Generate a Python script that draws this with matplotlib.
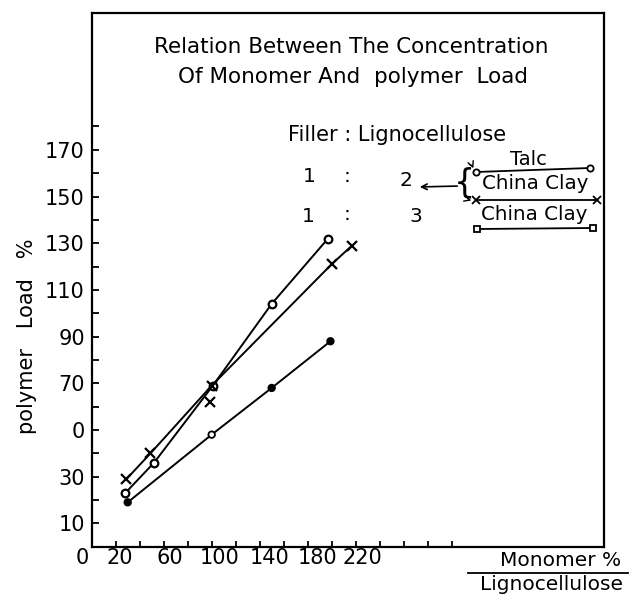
import matplotlib
matplotlib.use('Agg')
import matplotlib.pyplot as plt
import numpy as np
from matplotlib.transforms import ScaledTranslation, blended_transform_factory
from matplotlib.lines import Line2D

plt.rcParams['font.family'] = ['DejaVu Sans']

# ---------------- data ----------------
talc_x = [28, 52, 101, 150, 197]
talc_y = [23, 36, 69, 104, 132]

clay12_x = [29, 49, 100, 200, 217]
clay12_y = [29, 40, 69, 121, 129]

stray_x = [99]
stray_y = [62]

clay13_x = [30, 100, 150, 199]
clay13_y = [19, 48, 68, 88]
clay13_fill = ['k', 'white', 'k', 'k']

x_tick_values = [0, 20, 60, 100, 140, 180, 220]
x_tick_labels = ['0', '20', '60', '100', '140', '180', '220']
y_tick_values = [10, 30, 50, 70, 90, 110, 130, 150, 170]
y_tick_labels = ['10', '30', '0', '70', '90', '110', '130', '150', '170']

# ---------------- layout ----------------
W, H = 630, 594
DPI = 100
fig = plt.figure(figsize=(W / DPI, H / DPI), dpi=DPI)
fig.patch.set_facecolor('white')

def fx(px):
    return px / W

def fy(py):
    return 1 - py / H

L, R, T, B = 91.7, 604, 13, 546.7
ax = fig.add_axes([fx(L), fy(B), (R - L) / W, (B - T) / H])
ax.set_xlim(0, 427)
ax.set_ylim(0, 228.6)

for s in ax.spines.values():
    s.set_linewidth(1.6)
    s.set_color('k')

lw = 1.4
ax.plot(clay13_x, clay13_y, '-', color='k', lw=lw, zorder=2)
ax.scatter(clay13_x, clay13_y, s=22, facecolors=clay13_fill, edgecolors='k',
           linewidths=1.3, zorder=3)
ax.plot(talc_x, talc_y, '-', color='k', lw=lw, marker='o', mfc='white',
        mec='k', ms=5.5, mew=1.6, zorder=3)
ax.plot(clay12_x, clay12_y, '-', color='k', lw=lw, marker='x', ms=7,
        mew=1.6, zorder=3)
ax.plot(stray_x, stray_y, linestyle='none', color='k', marker='x', ms=7,
        mew=1.6, zorder=3)

# ticks
ax.set_xticks(np.arange(0, 301, 20))
ax.set_xticklabels([])
ax.tick_params(axis='x', direction='in', length=4, width=1.3, top=False)
ax.set_yticks(y_tick_values)
ax.set_yticklabels(y_tick_labels, fontsize=15)
ax.set_yticks(np.arange(20, 191, 20), minor=True)
ax.tick_params(axis='y', which='both', direction='in', length=5, width=1.3,
               pad=5, right=False)

x_label_shift = [-9, 4, 6, 8, 10, 10, 7]
bt = blended_transform_factory(ax.transData, ax.transAxes)
for v, lab, dx in zip(x_tick_values, x_tick_labels, x_label_shift):
    ax.text(v, 0, lab, transform=bt + ScaledTranslation(dx / DPI, -1.5 / DPI, fig.dpi_scale_trans),
            ha='center', va='top', fontsize=15, clip_on=False)

# axis labels
fig.text(fx(27), fy(336), 'polymer   Load   %', rotation=90, ha='center',
         va='center', fontsize=15)
fig.text(fx(561), fy(561), 'Monomer %', ha='center', va='center', fontsize=14.5)
fig.add_artist(Line2D([fx(468), fx(628)], [fy(572.5), fy(572.5)], color='k', lw=1.3))
fig.text(fx(551), fy(584), 'Lignocellulose', ha='center', va='center', fontsize=14.5)

# title
fig.text(fx(351), fy(47), 'Relation Between The Concentration', ha='center',
         va='center', fontsize=15.5)
fig.text(fx(353), fy(77), 'Of Monomer And  polymer  Load', ha='center',
         va='center', fontsize=15.5)

# filler annotation
fig.text(fx(397), fy(135), 'Filler : Lignocellulose', ha='center', va='center', fontsize=15)
for txt, x, y in [('1', 309, 177), (':', 347, 177), ('2', 406, 180),
                  ('1', 308, 216), (':', 347, 214), ('3', 416, 216)]:
    fig.text(fx(x), fy(y), txt, ha='center', va='center', fontsize=14.5)

fig.text(fx(464), fy(183), '{', ha='center', va='center', fontsize=24)
ax.annotate('', xy=(fx(417), fy(187)), xycoords='figure fraction',
            xytext=(fx(460), fy(186)), textcoords='figure fraction',
            arrowprops=dict(arrowstyle='->', color='k', lw=1.2))
ax.annotate('', xy=(fx(474), fy(171)), xycoords='figure fraction',
            xytext=(fx(467), fy(164)), textcoords='figure fraction',
            arrowprops=dict(arrowstyle='->', color='k', lw=1.0,
                            connectionstyle='arc3,rad=-0.4'))
ax.annotate('', xy=(fx(474), fy(201)), xycoords='figure fraction',
            xytext=(fx(466), fy(194)), textcoords='figure fraction',
            arrowprops=dict(arrowstyle='->', color='k', lw=1.0,
                            connectionstyle='arc3,rad=0.4'))

# legend-like lines
fig.add_artist(Line2D([fx(476), fx(590)], [fy(172), fy(168)], color='k', lw=1.3,
                      marker='o', mfc='white', mec='k', ms=4.5, mew=1.3))
fig.text(fx(528), fy(159), 'Talc', ha='center', va='center', fontsize=14)
fig.text(fx(535), fy(184), 'China Clay', ha='center', va='center', fontsize=14.3)
fig.add_artist(Line2D([fx(476), fx(597)], [fy(200), fy(200)], color='k', lw=1.3,
                      marker='x', ms=5.5, mew=1.3))
fig.text(fx(534), fy(214), 'China Clay', ha='center', va='center', fontsize=14.3)
fig.add_artist(Line2D([fx(477), fx(593)], [fy(229), fy(228)], color='k', lw=1.3,
                      marker='s', mfc='white', mec='k', ms=4, mew=1.3))

fig.savefig('out.png', dpi=DPI, facecolor='white')
